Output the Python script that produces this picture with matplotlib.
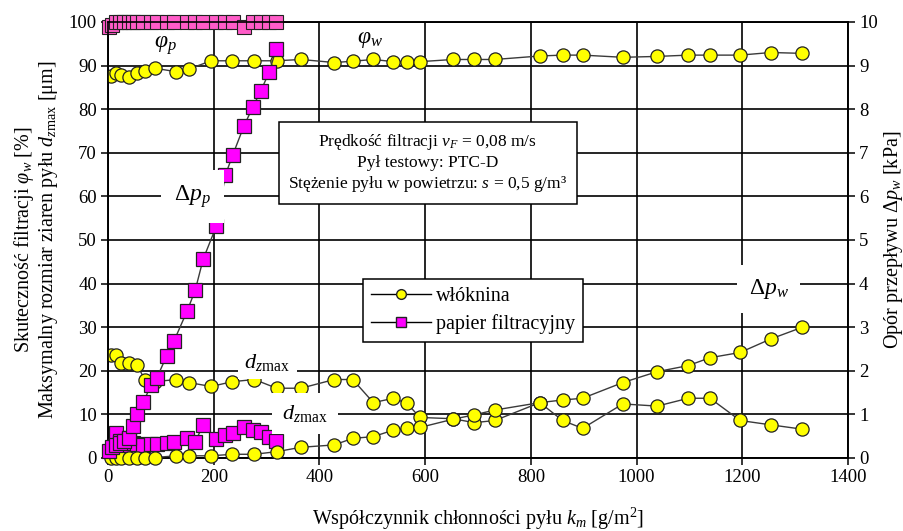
import matplotlib
matplotlib.use("Agg")
import matplotlib.pyplot as plt
from matplotlib.lines import Line2D
from matplotlib.font_manager import FontProperties

plt.rcParams['font.family'] = ['Liberation Serif', 'DejaVu Serif']
plt.rcParams['mathtext.fontset'] = 'custom'
plt.rcParams['mathtext.rm'] = 'Liberation Serif'
plt.rcParams['mathtext.it'] = 'Liberation Serif:italic'
plt.rcParams['mathtext.bf'] = 'Liberation Serif:bold'

# ---- data: włóknina (nonwoven) ----
km_w = [5, 15, 25, 40, 55, 70, 88, 129, 153, 195, 235, 277, 319, 365, 428, 463,
        502, 540, 566, 590, 653, 693, 732, 817, 860, 898, 974, 1039, 1098, 1139,
        1196, 1254, 1314]
phi_w = [87.5, 88.3, 87.8, 87.3, 88.3, 88.8, 89.4, 88.6, 89.2, 91.1, 91.1, 91.1,
         91.1, 91.4, 90.7, 91.0, 91.4, 90.9, 90.9, 90.9, 91.4, 91.4, 91.4, 92.2,
         92.4, 92.4, 91.9, 92.1, 92.4, 92.4, 92.4, 93.0, 92.8]
dz_w = [23.6, 23.6, 21.8, 21.7, 21.3, 17.9, 17.5, 18.0, 17.3, 16.4, 17.5, 18.0,
        16.0, 16.0, 18.0, 18.0, 12.7, 13.7, 12.5, 9.3, 9.0, 8.1, 8.6, 12.7, 8.6,
        6.8, 12.4, 11.9, 13.7, 13.7, 8.6, 7.6, 6.6]
dp_w = [0.01, 0.01, 0.01, 0.01, 0.01, 0.01, 0.01, 0.05, 0.05, 0.05, 0.085, 0.085,
        0.145, 0.245, 0.30, 0.45, 0.49, 0.64, 0.68, 0.70, 0.89, 0.99, 1.10, 1.27,
        1.33, 1.37, 1.73, 1.98, 2.12, 2.30, 2.42, 2.73, 3.00]

# ---- data: papier filtracyjny (filter paper) ----
km_p = [2, 8, 15, 22, 30, 40, 47, 55, 67, 81, 92, 111, 125, 150, 165, 180, 205,
        222, 236, 257, 274, 289, 305, 318]
phi_p = [98.8, 99.4, 100, 100, 100, 100, 100, 100, 100, 100, 100, 100, 100, 100,
         100, 100, 100, 100, 100, 98.9, 100, 100, 100, 100]
dz_p = [2.2, 3.0, 5.8, 4.0, 3.0, 4.5, 3.5, 3.2, 3.0, 3.2, 3.2, 3.5, 3.7, 4.5, 3.7,
        7.6, 4.3, 5.3, 5.8, 7.2, 6.4, 6.0, 4.9, 4.0]
dp_p = [0.15, 0.25, 0.30, 0.35, 0.40, 0.45, 0.73, 1.01, 1.28, 1.67, 1.83, 2.34,
        2.69, 3.38, 3.85, 4.56, 5.32, 6.49, 6.95, 7.61, 8.05, 8.42, 8.85, 9.38]

xticks = [0, 200, 400, 600, 800, 1000, 1200, 1400]
yticks_l = list(range(0, 101, 10))
yticks_r = list(range(0, 11, 1))

YEL = '#FFFF00'
MAG = '#FF00FF'
PINK = '#FF5CC8'
LC = '#3a3a3a'
SERIF = 'Liberation Serif'

fig = plt.figure(figsize=(9.04, 5.31), dpi=100)
ax = fig.add_axes([0.1195, 0.1375, 0.8185, 0.8211])
ax2 = ax.twinx()

ax.set_xlim(0, 1400)
ax.set_ylim(0, 100)
ax2.set_ylim(0, 10)
ax.set_xticks(xticks)
ax.set_yticks(yticks_l)
ax2.set_yticks(yticks_r)
ax.grid(True, color='black', lw=1.2)
ax.set_axisbelow(True)

for a in (ax, ax2):
    a.tick_params(direction='out', length=5, width=1.1, labelsize=13.5,
                  color='black', pad=3)
    for s in a.spines.values():
        s.set_linewidth(1.2)

mk = dict(markersize=9.5, markeredgecolor='#222222', markeredgewidth=0.9,
          color=LC, lw=1.0)

ax.plot(km_w, phi_w, marker='o', markerfacecolor=YEL, zorder=3, **mk)
ax.plot(km_w, dz_w, marker='o', markerfacecolor=YEL, zorder=3, **mk)
ax.plot(km_p, phi_p, marker='s', markerfacecolor=PINK, zorder=4, clip_on=False,
        markersize=9.5, markeredgecolor='#222222', markeredgewidth=0.8, color=LC, lw=1.0)
ax.plot(km_p, dz_p, marker='s', markerfacecolor=MAG, zorder=4, **mk)
ax2.plot(km_w, dp_w, marker='o', markerfacecolor=YEL, zorder=3, clip_on=False, **mk)
ax2.plot(km_p, dp_p, marker='s', markerfacecolor=MAG, zorder=4, clip_on=False, **mk)

# curve labels
ax2.text(108, 94.5, r'$\varphi_p$', transform=ax.transData, fontsize=17,
         ha='center', va='center', zorder=6)
ax2.text(496, 96, r'$\varphi_w$', transform=ax.transData, fontsize=17,
         ha='center', va='center', zorder=6)
ax2.text(160, 60, r'$\Delta p_p$', transform=ax.transData, fontsize=17,
         ha='center', va='center', zorder=6,
         bbox=dict(facecolor='white', edgecolor='none', boxstyle='square,pad=0.55'))
ax2.text(301, 22.0, r'$d_{z\mathrm{max}}$', transform=ax.transData, fontsize=16,
         ha='center', va='center', zorder=6,
         bbox=dict(facecolor='white', edgecolor='none', boxstyle='square,pad=0.3'))
ax2.text(373, 10.3, r'$d_{z\mathrm{max}}$', transform=ax.transData, fontsize=16,
         ha='center', va='center', zorder=6,
         bbox=dict(facecolor='white', edgecolor='none', boxstyle='square,pad=0.45'))
ax2.text(1250, 38.8, r'$\Delta p_w$', transform=ax.transData, fontsize=17,
         ha='center', va='center', zorder=6,
         bbox=dict(facecolor='white', edgecolor='none', boxstyle='square,pad=0.5'))

# info box
info = ('Prędkość filtracji $v_F$ = 0,08 m/s\n'
        'Pył testowy: PTC-D\n'
        'Stężenie pyłu w powietrzu: $s$ = 0,5 g/m³')
ax2.text(0.432, 0.677, info, transform=ax.transAxes, fontsize=12.5,
         ha='center', va='center', linespacing=1.25, zorder=7,
         bbox=dict(facecolor='white', edgecolor='black', linewidth=1.1,
                   boxstyle='square,pad=0.55'))

# legend
h1 = Line2D([], [], color='black', lw=1.0, marker='o', markerfacecolor=YEL,
            markeredgecolor='#222222', markersize=7)
h2 = Line2D([], [], color='black', lw=1.0, marker='s', markerfacecolor=MAG,
            markeredgecolor='#222222', markersize=7)
leg_fp = FontProperties(family=[SERIF, 'DejaVu Serif'], size=14.5)
leg = ax2.legend([h1, h2], ['włóknina', 'papier filtracyjny'], loc='upper left',
                 bbox_to_anchor=(0.331, 0.433),
                 prop=leg_fp, frameon=True,
                 fancybox=False, framealpha=1, edgecolor='black',
                 handlelength=3.0, handletextpad=0.2, borderpad=0.4,
                 labelspacing=0.4)
for t in leg.get_texts():
    t.set_fontfamily([SERIF, 'DejaVu Serif'])
    t.set_fontsize(14.5)
leg.get_frame().set_linewidth(1.1)
leg.set_zorder(10)

ax.set_xlabel('Współczynnik chłonności pyłu $k_m$ [g/m$^2$]', fontsize=14.5,
              labelpad=14, fontfamily=[SERIF, 'DejaVu Serif'])
ax.set_ylabel('Skuteczność filtracji $\\varphi_w$ [%]\n'
              'Maksymalny rozmiar ziaren pyłu $d_{z\\mathrm{max}}$ [μm]',
              fontsize=14.5, labelpad=6, linespacing=1.1,
              fontfamily=[SERIF, 'DejaVu Serif'])
ax2.set_ylabel('Opór przepływu $\\Delta p_w$ [kPa]', fontsize=14.5, labelpad=3,
               fontfamily=[SERIF, 'DejaVu Serif'])

fig.savefig('out.png', dpi=100)
